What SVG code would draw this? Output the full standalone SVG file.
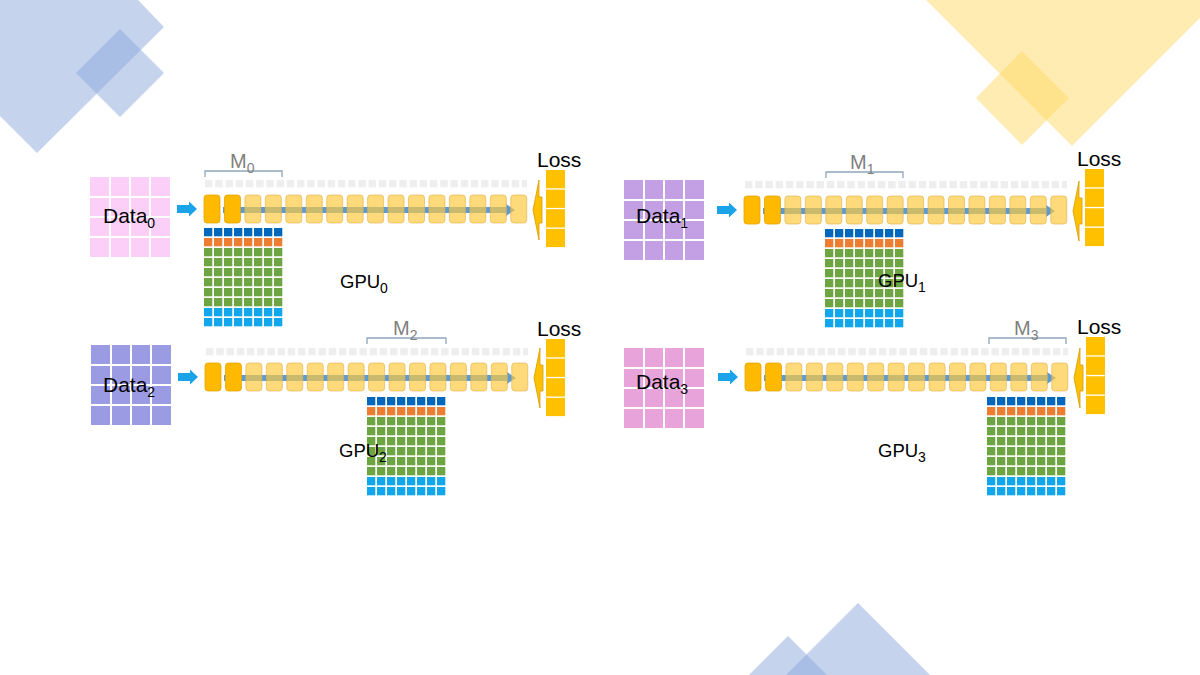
<svg xmlns="http://www.w3.org/2000/svg" xmlns:xlink="http://www.w3.org/1999/xlink" width="1200" height="675" viewBox="0 0 1200 675">
<defs>
<style>
  text { font-family: "Liberation Sans", Arial, sans-serif; fill: #000; }
  .lbl { font-size: 21px; }
  .gpu { font-size: 18.5px; }
  .m { font-size: 20px; fill: #7F7F7F; }
  .sub { font-size: 14px; }
  .deco-b { fill: #8FAADC; fill-opacity: 0.52; }
  .deco-y { fill: #FFD966; fill-opacity: 0.5; }
  .blk-o { fill: #FFB900; stroke: #E5A500; stroke-width: 0.8; }
  .blk-l { fill: #FFC83C; fill-opacity: 0.68; stroke: #E3B24A; stroke-opacity: 0.8; stroke-width: 0.8; }
  .brk { fill: none; stroke: #8FA6BC; stroke-width: 1.3; }
  .dline { stroke: #FFFFFF; stroke-width: 2; }
  .loss-cell { fill: #FFC000; }
  .darrow { fill: #1AA3E8; }
  .larrow { fill: #FFC000; stroke: #D99A00; stroke-width: 0.8; }
</style>
<pattern id="pg" width="10.225" height="10" patternUnits="userSpaceOnUse" x="1" y="-15"><rect width="7.5" height="7.5" fill="#EEEEEE"/></pattern>
<pattern id="p-db" width="10" height="10" patternUnits="userSpaceOnUse"><rect width="8.3" height="8.3" fill="#0068BC"/></pattern>
<pattern id="p-or" width="10" height="10" patternUnits="userSpaceOnUse"><rect width="8.3" height="8.3" fill="#ED7D31"/></pattern>
<pattern id="p-gr" width="10" height="10" patternUnits="userSpaceOnUse"><rect width="8.3" height="8.3" fill="#6DA543"/></pattern>
<pattern id="p-lb" width="10" height="10" patternUnits="userSpaceOnUse"><rect width="8.3" height="8.3" fill="#12A6EC"/></pattern>
<g id="model">
  <rect x="1" y="-15" width="322" height="7.5" fill="url(#pg)"/>
  <line x1="19" y1="15" x2="303" y2="15" stroke="#5B9BD5" stroke-width="6"/>
  <path d="M302,9 L311,15 L302,21 Z" fill="#5B9BD5"/>
  <rect class="blk-o" x="0" y="0" width="16" height="28" rx="3"/>
  <rect class="blk-o" x="20.45" y="0" width="16" height="28" rx="3"/>
  <rect class="blk-l" x="40.9" y="0" width="16" height="28" rx="3"/>
  <rect class="blk-l" x="61.35" y="0" width="16" height="28" rx="3"/>
  <rect class="blk-l" x="81.8" y="0" width="16" height="28" rx="3"/>
  <rect class="blk-l" x="102.25" y="0" width="16" height="28" rx="3"/>
  <rect class="blk-l" x="122.7" y="0" width="16" height="28" rx="3"/>
  <rect class="blk-l" x="143.15" y="0" width="16" height="28" rx="3"/>
  <rect class="blk-l" x="163.6" y="0" width="16" height="28" rx="3"/>
  <rect class="blk-l" x="184.05" y="0" width="16" height="28" rx="3"/>
  <rect class="blk-l" x="204.5" y="0" width="16" height="28" rx="3"/>
  <rect class="blk-l" x="224.95" y="0" width="16" height="28" rx="3"/>
  <rect class="blk-l" x="245.4" y="0" width="16" height="28" rx="3"/>
  <rect class="blk-l" x="265.85" y="0" width="16" height="28" rx="3"/>
  <rect class="blk-l" x="286.3" y="0" width="16" height="28" rx="3"/>
  <rect class="blk-l" x="306.75" y="0" width="16" height="28" rx="3"/>
</g>
<g id="gpugrid">
  <rect x="0" y="0" width="80" height="10" fill="url(#p-db)"/>
  <rect x="0" y="10" width="80" height="10" fill="url(#p-or)"/>
  <rect x="0" y="20" width="80" height="60" fill="url(#p-gr)"/>
  <rect x="0" y="80" width="80" height="20" fill="url(#p-lb)"/>
</g>
<g id="dgrid">
  <line class="dline" x1="20" y1="0" x2="20" y2="80"/>
  <line class="dline" x1="40" y1="0" x2="40" y2="80"/>
  <line class="dline" x1="60" y1="0" x2="60" y2="80"/>
  <line class="dline" x1="0" y1="20" x2="80" y2="20"/>
  <line class="dline" x1="0" y1="40" x2="80" y2="40"/>
  <line class="dline" x1="0" y1="60" x2="80" y2="60"/>
</g>
<g id="losscells">
  <rect class="loss-cell" x="0" y="0" width="19" height="18.3"/>
  <rect class="loss-cell" x="0" y="19.6" width="19" height="18.3"/>
  <rect class="loss-cell" x="0" y="39.2" width="19" height="18.3"/>
  <rect class="loss-cell" x="0" y="58.8" width="19" height="18.3"/>
</g>
<path id="dar" class="darrow" d="M-27,10 L-15,10 L-15,6.5 L-7,14 L-15,21.5 L-15,18 L-27,18 Z"/>
<path id="lar" class="larrow" d="M329,15 L335,-15 L335,2 L338,2 L338,28 L335,28 L335,45 Z"/>
</defs>

<g id="decorations">
  <polygon class="deco-b" points="0,0 138,0 164,27 37,153 0,116"/>
  <polygon class="deco-b" points="120,29 164,73 120,117 76,73"/>
  <polygon class="deco-y" points="926,0 1200,0 1200,18 1072,146"/>
  <polygon class="deco-y" points="1022,51 1069,98 1022,145 976,98"/>
  <polygon class="deco-b" points="858,603 930,675 786,675"/>
  <polygon class="deco-b" points="788,636 827,675 749,675"/>
</g>

<!-- GPU 0 -->
<g id="data-0">
  <rect x="90" y="177" width="80" height="80" fill="#FBCFF8"/>
  <use xlink:href="#dgrid" href="#dgrid" transform="translate(90,177)"/>
  <text class="lbl" x="103" y="223">Data<tspan class="sub" dy="5">0</tspan></text>
</g>
<g id="model-0" transform="translate(204,195)">
  <use xlink:href="#model" href="#model"/>
  <path class="brk" d="M1,-18 V-24 H78 V-18"/>
  <text class="m" x="26" y="-27">M<tspan class="sub" dy="5">0</tspan></text>
</g>
<g id="memory-0">
  <use xlink:href="#gpugrid" href="#gpugrid" transform="translate(204,228)"/>
  <text class="gpu" x="340" y="288">GPU<tspan class="sub" dy="5">0</tspan></text>
</g>
<g id="loss-0" transform="translate(204,195)">
  <use xlink:href="#losscells" href="#losscells" transform="translate(342,-25)"/>
  <text class="lbl" x="333" y="-28">Loss</text>
</g>

<!-- GPU 1 -->
<g id="data-1">
  <rect x="624" y="180" width="80" height="80" fill="#C3A0E3"/>
  <use xlink:href="#dgrid" href="#dgrid" transform="translate(624,180)"/>
  <text class="lbl" x="636" y="223">Data<tspan class="sub" dy="5">1</tspan></text>
</g>
<g id="model-1" transform="translate(744,196)">
  <use xlink:href="#model" href="#model"/>
  <path class="brk" d="M82,-18 V-24 H159 V-18"/>
  <text class="m" x="106" y="-27">M<tspan class="sub" dy="5">1</tspan></text>
</g>
<g id="memory-1">
  <use xlink:href="#gpugrid" href="#gpugrid" transform="translate(825,229)"/>
  <text class="gpu" x="878" y="287">GPU<tspan class="sub" dy="5">1</tspan></text>
</g>
<g id="loss-1" transform="translate(744,196)">
  <use xlink:href="#losscells" href="#losscells" transform="translate(341,-27)"/>
  <text class="lbl" x="333" y="-30">Loss</text>
</g>

<!-- GPU 2 -->
<g id="data-2">
  <rect x="91" y="345" width="80" height="80" fill="#9B9BE4"/>
  <use xlink:href="#dgrid" href="#dgrid" transform="translate(91,345)"/>
  <text class="lbl" x="103" y="392">Data<tspan class="sub" dy="5">2</tspan></text>
</g>
<g id="model-2" transform="translate(205,363)">
  <use xlink:href="#model" href="#model"/>
  <path class="brk" d="M162,-19 V-25 H241 V-19"/>
  <text class="m" x="188" y="-28">M<tspan class="sub" dy="5">2</tspan></text>
</g>
<g id="memory-2">
  <use xlink:href="#gpugrid" href="#gpugrid" transform="translate(367,397)"/>
  <text class="gpu" x="339" y="457">GPU<tspan class="sub" dy="5">2</tspan></text>
</g>
<g id="loss-2" transform="translate(205,363)">
  <use xlink:href="#losscells" href="#losscells" transform="translate(341,-24)"/>
  <text class="lbl" x="332" y="-27">Loss</text>
</g>

<!-- GPU 3 -->
<g id="data-3">
  <rect x="624" y="348" width="80" height="80" fill="#E8A3DB"/>
  <use xlink:href="#dgrid" href="#dgrid" transform="translate(624,348)"/>
  <text class="lbl" x="636" y="389">Data<tspan class="sub" dy="5">3</tspan></text>
</g>
<g id="model-3" transform="translate(745,363)">
  <use xlink:href="#model" href="#model"/>
  <path class="brk" d="M244,-19 V-25 H321 V-19"/>
  <text class="m" x="269" y="-28">M<tspan class="sub" dy="5">3</tspan></text>
</g>
<g id="memory-3">
  <use xlink:href="#gpugrid" href="#gpugrid" transform="translate(987,397)"/>
  <text class="gpu" x="878" y="457">GPU<tspan class="sub" dy="5">3</tspan></text>
</g>
<g id="loss-3" transform="translate(745,363)">
  <use xlink:href="#losscells" href="#losscells" transform="translate(341,-26)"/>
  <text class="lbl" x="332" y="-29">Loss</text>
</g>

<g id="connectors">
  <use xlink:href="#dar" href="#dar" transform="translate(204,195)"/>
  <use xlink:href="#lar" href="#lar" transform="translate(204,195)"/>
  <use xlink:href="#dar" href="#dar" transform="translate(744,196)"/>
  <use xlink:href="#lar" href="#lar" transform="translate(744,196)"/>
  <use xlink:href="#dar" href="#dar" transform="translate(205,363)"/>
  <use xlink:href="#lar" href="#lar" transform="translate(205,363)"/>
  <use xlink:href="#dar" href="#dar" transform="translate(745,363)"/>
  <use xlink:href="#lar" href="#lar" transform="translate(745,363)"/>
</g>
</svg>
